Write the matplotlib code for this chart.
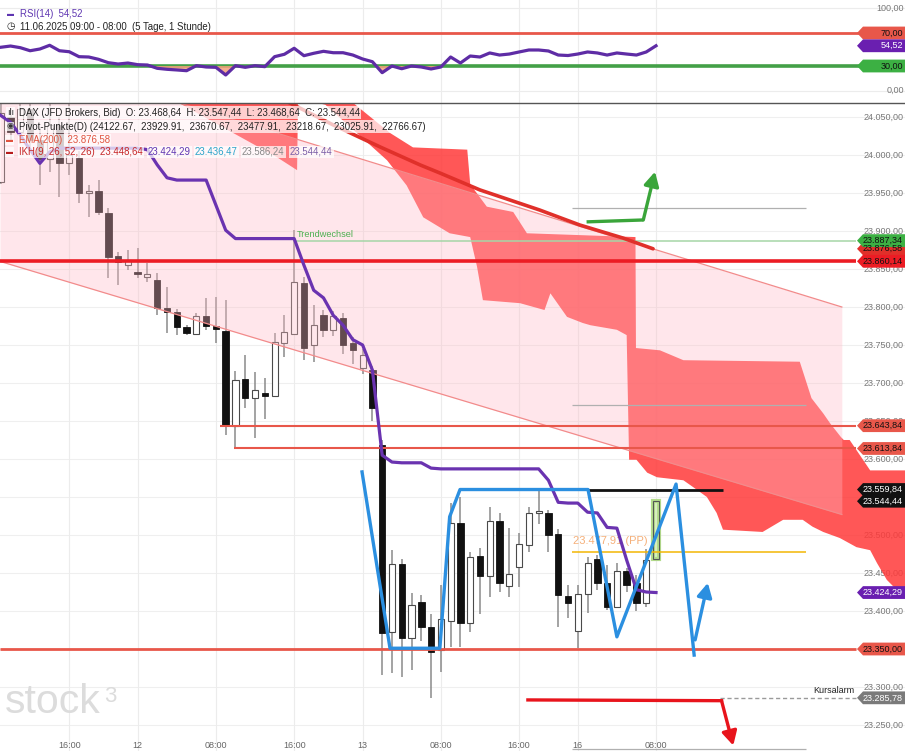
import numpy as np
import matplotlib
matplotlib.use("Agg")
import matplotlib.pyplot as plt
from matplotlib.patches import Polygon
from matplotlib.lines import Line2D
from matplotlib.transforms import blended_transform_factory as btf

plt.rcParams['font.family'] = ['Liberation Sans', 'DejaVu Sans']

W, H = 905, 751

# ---------------- data ----------------
opens = [23964, 24050, 24030, 24060, 24020, 23995, 24040, 23990, 23996, 23950,
         23953, 23924, 23867, 23855, 23846, 23839, 23836, 23799, 23793, 23774,
         23764, 23788, 23775, 23768, 23643, 23705, 23680, 23687, 23683, 23753,
         23765, 23832, 23750, 23789, 23770, 23786, 23752, 23720, 23717, 23618,
         23372, 23462, 23365, 23412, 23379, 23349, 23387, 23516, 23384, 23472,
         23446, 23518, 23433, 23458, 23487, 23529, 23529, 23501, 23420, 23374,
         23422, 23468, 23437, 23405, 23453, 23437, 23411, 23468.64]
highs = [24075, 24062, 24080, 24075, 24035, 24072, 24050, 24070, 24005, 23960,
         23967, 23930, 23872, 23875, 23878, 23858, 23845, 23826, 23797, 23776,
         23792, 23812, 23813, 23809, 23716, 23737, 23714, 23707, 23766, 23789,
         23901, 23840, 23803, 23796, 23795, 23792, 23760, 23745, 23722, 23625,
         23480, 23468, 23424, 23421, 23396, 23434, 23542, 23550, 23478, 23483,
         23537, 23529, 23509, 23503, 23537, 23559.84, 23533, 23508, 23434, 23434,
         23471, 23474, 23461, 23463, 23457, 23447, 23482, 23547.44]
lows = [23962, 24020, 24015, 24010, 23961, 23978, 23945, 23974, 23937, 23918,
        23921, 23838, 23829, 23849, 23838, 23833, 23789, 23766, 23763, 23763,
        23763, 23770, 23753, 23632, 23613.84, 23667, 23628, 23653, 23683, 23734,
        23765, 23730, 23728, 23760, 23762, 23738, 23725, 23712, 23650, 23316,
        23318, 23313, 23322, 23360, 23285.78, 23320, 23353, 23353, 23372, 23396,
        23418, 23425, 23418, 23432, 23478, 23515, 23478, 23379, 23391, 23351,
        23397, 23428, 23401, 23404, 23425, 23400, 23405, 23468.64]
closes = [24055, 24030, 24060, 24020, 23995, 24040, 23990, 24000, 23950, 23953,
          23925, 23866, 23859, 23862, 23844, 23843, 23799, 23793, 23774, 23766,
          23788, 23775, 23771, 23643.84, 23704, 23680, 23691, 23683, 23754, 23767,
          23833, 23746, 23776, 23770, 23788, 23750, 23744, 23737, 23667, 23371,
          23462, 23365, 23408, 23379, 23346, 23390, 23516, 23384, 23471, 23446,
          23518, 23437, 23449, 23488, 23529, 23531, 23500, 23421, 23411, 23422,
          23463, 23437, 23405, 23453, 23434, 23411, 23467, 23544.44]

# Ichimoku Kijun-sen (purple)
kijun = [24052, 24043, 24026, 24007, 23989, 24004, 24009, 24009, 24009, 24009,
         24009, 24009, 24009, 24009, 24009, 24007, 23987, 23970, 23967, 23967,
         23967, 23967, 23934, 23901, 23890, 23890, 23890, 23890, 23890, 23890,
         23890, 23855, 23822, 23812, 23789, 23776, 23757, 23750, 23717, 23605,
         23596, 23595, 23595, 23595, 23588, 23587, 23587, 23587, 23587, 23587,
         23587, 23587, 23587, 23587, 23587, 23587, 23572, 23543, 23542, 23542,
         23530, 23529, 23510, 23509, 23467, 23428, 23425, 23424.29]

rsi = [52.7, 54.2, 52.2, 48.5, 50.6, 55.1, 48.5, 47.3, 41.3, 40.9,
       38.1, 34.0, 32.4, 33.6, 31.6, 31.2, 27.2, 26.0, 25.2, 24.3,
       30.4, 28.8, 28.4, 19.1, 30.4, 28.4, 30.4, 29.2, 41.3, 44.2,
       51.5, 42.5, 45.4, 47.8, 46.1, 46.1, 43.3, 38.5, 35.2, 21.9,
       30.0, 26.7, 30.0, 28.8, 26.4, 28.8, 40.9, 33.6, 42.1, 40.9,
       45.8, 43.3, 44.5, 47.0, 49.4, 49.4, 48.2, 43.3, 42.7, 44.5,
       47.0, 45.8, 43.3, 45.8, 44.5, 43.3, 47.0, 54.52]

# EMA(200)
ema_x = [27.0, 34.0, 36.4, 38.8, 42.9, 44.9, 49.0, 55.1, 59.2, 63.6, 66.7]
ema_y = [24085, 24039.5, 24025, 24010.5, 23986.8, 23976.3, 23954, 23927.6,
         23907.9, 23890.8, 23876.58]

# Ichimoku cloud outline
cloud_top_x = [18.0, 35.7, 39.8, 42.15, 47.7, 48.0, 48.2, 49.7, 52.4, 53.8, 64.9,
               64.95, 67.4, 69.8, 81.7, 82.9, 84.1, 84.8, 85.9, 86.2, 86.8, 88.9, 92.5]
cloud_top_y = [24095, 24072, 24029, 24010, 24007, 23962, 23958, 23932, 23925, 23897,
               23892, 23746, 23743, 23730, 23728, 23680, 23660, 23647, 23629, 23625,
               23625, 23585, 23585]
cloud_bot_x = [18.0, 28.25, 30.3, 30.4, 33.2, 36.4, 39.5, 41.5, 43.2, 45.9, 48.0, 48.7,
               49.3, 53.1, 55.6, 56.2, 57.9, 59.5, 60.3, 63.0, 64.0, 64.25, 65.0, 66.1,
               67.1, 69.8, 70.8, 72.2, 73.2, 73.85, 77.9, 80.0, 82.0, 83.0, 84.1, 85.8,
               87.5, 88.9, 89.6, 90.6, 91.6, 92.5]
cloud_bot_y = [24070, 23997, 23980, 24075, 24066, 24029, 23993, 23960, 23918, 23897,
               23892, 23853, 23809, 23805, 23796, 23818, 23787, 23779, 23776, 23770,
               23763, 23599, 23599, 23582, 23576, 23572, 23563, 23550, 23529, 23507,
               23504, 23520, 23520, 23511, 23504, 23496, 23484, 23480, 23463, 23441,
               23428, 23424]

# trend channel
channel_x = [-0.08, 86.0]
channel_upper = [24141.0, 23800.0]
channel_lower = [23860.0, 23527.0]

# blue zigzag + arrows
zigzag_x = [36.94, 39.8, 44.9, 45.9, 46.96, 60.05, 63.0, 69.05, 70.9]
zigzag_y = [23583, 23351, 23351, 23524, 23559.84, 23559.84, 23366, 23567, 23342]
blue_arrow = [(71.0, 23362), (72.3, 23437)]
green_path_x = [59.9, 65.7]
green_path_y = [23912, 23914.5]
green_arrow = [(65.7, 23914.5), (66.9, 23978)]
red_path_x = [53.9, 73.7]
red_path_y = [23283, 23282]
red_arrow = [(73.7, 23282), (74.9, 23223)]

pivots = [24122.67, 23929.91, 23670.67, 23477.91, 23218.67, 23025.91, 22766.67]
pivot_pp = 23477.91
support_350 = 23350.00
red_level = 23860.14
trend_change = 23887.34
ema_last = 23876.58
level_a = 23643.84
level_b = 23613.84
range_high = 23559.84
alarm = 23285.78
last_close = 23544.44
ikh_values = ["23.448,64", "23.424,29", "23.436,47", "23.586,24", "23.544,44"]

time_tick_pos = [7, 14, 22, 30, 37, 45, 53, 59, 67]
time_tick_labels = ["16:00", "12", "08:00", "16:00", "13", "08:00", "16:00", "16", "08:00"]
price_ticks = [24050, 24000, 23950, 23900, 23850, 23800, 23750, 23700, 23650,
               23600, 23550, 23500, 23450, 23400, 23350, 23300, 23250]
rsi_grid = [100, 0]
rsi_upper, rsi_lower = 70, 30
rsi_last = 54.52


def de(v, nd=2):
    s = f"{v:,.{nd}f}"
    return s.replace(",", "X").replace(".", ",").replace("X", ".")


# ---------------- figure ----------------
fig = plt.figure(figsize=(W / 100, H / 100), dpi=100)
fig.patch.set_facecolor('white')
top_px = 103
ax = fig.add_axes([0, 0, 1, (H - top_px) / H])
axr = fig.add_axes([0, 1 - top_px / H, 1, top_px / H])

xl = (-0.078, 92.46)
ax.set_xlim(*xl)
ax.set_ylim(23215.8, 24068.4)
axr.set_xlim(*xl)
axr.set_ylim(-14.85, 110)
for a in (ax, axr):
    a.axis('off')

ppx = (ax.get_ylim()[1] - ax.get_ylim()[0]) / (H - top_px)   # price per pixel
rpx = (axr.get_ylim()[1] - axr.get_ylim()[0]) / top_px

# grids
for p in price_ticks:
    ax.axhline(p, color='#efefef', lw=0.8, zorder=0)
for t in time_tick_pos:
    ax.axvline(t, color='#ececec', lw=0.8, zorder=0)
    axr.axvline(t, color='#ececec', lw=0.8, zorder=0)
for g in rsi_grid:
    axr.axhline(g, color='#ececec', lw=0.8, zorder=0)

tr_main = btf(ax.transAxes, ax.transData)
tr_rsi = btf(axr.transAxes, axr.transData)

tag_levels = [ema_last, trend_change, red_level, level_a, level_b, range_high,
              last_close, kijun[-1], support_350, alarm]

# plain price labels (those fully hidden behind a tag are not drawn)
for p in price_ticks:
    if min(abs(p - t) for t in tag_levels) < 4.5 * ppx:
        continue
    ax.text(904 / W, p, de(p), transform=tr_main, ha='right', va='center',
            fontsize=6.5, color='#777777', zorder=0.8)
for g in rsi_grid:
    axr.text(904 / W, g, de(g), transform=tr_rsi, ha='right', va='center',
             fontsize=6.5, color='#777777', zorder=0.8)

# cloud
ax.fill(cloud_top_x + cloud_bot_x[::-1], cloud_top_y + cloud_bot_y[::-1],
        color='#ff3b3b', alpha=0.86, lw=0, zorder=1)

# candles
idx = np.arange(len(opens))
o = np.array(opens); h = np.array(highs); l = np.array(lows); c = np.array(closes)
bull = c >= o
bottom = np.minimum(o, c)
height = np.maximum(np.abs(c - o), 2.5)
last = len(o) - 1
m = np.arange(len(o)) < last
ax.vlines(idx, l, h, color='#8a8a8a', lw=1.1, zorder=2)
ax.bar(idx[bull & m], height[bull & m], bottom=bottom[bull & m], width=0.62,
       color='white', edgecolor='#4a4a4a', lw=0.8, zorder=2.2)
ax.bar(idx[~bull & m], height[~bull & m], bottom=bottom[~bull & m], width=0.66,
       color='#111111', edgecolor='#111111', lw=0.6, zorder=2.2)
ax.bar([idx[last]], [height[last]], bottom=[bottom[last]], width=0.66,
       color='#dcefc4', edgecolor='#b4dc8c', lw=3.0, zorder=2.3)
ax.bar([idx[last]], [height[last]], bottom=[bottom[last]], width=0.62,
       color='none', edgecolor='#555555', lw=0.8, zorder=2.4)

# trend channel
ax.fill_between(channel_x, channel_lower, channel_upper, color='#ffbac6',
                alpha=0.35, lw=0, zorder=3)
ax.plot(channel_x, channel_upper, color='#f28b8b', lw=0.9, zorder=3.1)
ax.plot(channel_x, channel_lower, color='#f28b8b', lw=0.9, zorder=3.1)

# horizontal levels
xe = 87.4
ax.hlines(red_level, xl[0], xe, color='#ec1c24', lw=2.6, zorder=4)
ax.hlines(support_350, xl[0], xe, color='#e8574a', lw=2.0, zorder=4)
ax.hlines(level_a, 22.4, xe, color='#e8574a', lw=1.5, zorder=4)
ax.hlines(level_b, 23.9, xe, color='#e8574a', lw=1.5, zorder=4)
ax.hlines(trend_change, 30.1, xe, color='#a5d6a7', lw=1.1, zorder=4)
ax.text(30.3, trend_change + 7.5, "Trendwechsel", color='#4caf50', fontsize=6.6,
        va='center', ha='left', zorder=4)
ax.hlines(range_high, 60.0, 73.8, color='#111111', lw=2.0, zorder=4)
for p in (pivots[1], pivots[2], pivots[4]):
    ax.hlines(p, 58.4, 82.3, color='#b0b0b0', lw=0.9, zorder=4)
ax.hlines(pivot_pp, 58.4, 82.3, color='#f2b705', lw=1.1, zorder=4)
ax.text(58.5, pivot_pp + 14, de(pivot_pp) + " (PP)", color='#f5b07a', fontsize=8,
        va='center', ha='left', zorder=1.5)
ax.hlines(alarm, 73.5, xe, color='#9a9a9a', lw=1.0, linestyles=(0, (3, 2)), zorder=4)
ax.text(87.3, alarm + 9, "Kursalarm", color='#222222', fontsize=6.5, ha='right',
        va='center', zorder=4)

# EMA and Kijun
ax.plot(ema_x, ema_y, color='#e0302a', lw=2.6, zorder=4.5, solid_capstyle='round')
ax.plot(idx, kijun, color='#6a33b0', lw=2.3, zorder=5, solid_joinstyle='round')

# zigzag and arrows
ax.plot(zigzag_x, zigzag_y, color='#2b8fe0', lw=2.4, zorder=6, solid_joinstyle='round')


def arrow(a, p0, p1, col):
    a.annotate('', xy=p1, xytext=p0, zorder=6,
               arrowprops=dict(arrowstyle='-|>,head_length=0.6,head_width=0.32',
                               color=col, lw=2.4, shrinkA=0, shrinkB=0,
                               mutation_scale=14))


arrow(ax, blue_arrow[0], blue_arrow[1], '#2b8fe0')
ax.plot(green_path_x, green_path_y, color='#3aa53a', lw=2.4, zorder=6, solid_capstyle='butt')
arrow(ax, green_arrow[0], green_arrow[1], '#3aa53a')
ax.plot(red_path_x, red_path_y, color='#e8141c', lw=2.4, zorder=6)
arrow(ax, red_arrow[0], red_arrow[1], '#e8141c')

# RSI panel
axr.axhline(rsi_upper, color='#e8574a', lw=2.0, zorder=2)
axr.axhline(rsi_lower, color='#43a047', lw=2.6, zorder=2)
r = np.array(rsi)
axr.fill_between(idx, r, rsi_lower, where=r < rsi_lower, interpolate=True,
                 color='#f3a07a', alpha=0.85, lw=0, zorder=2.5)
axr.plot(idx, r, color='#5e2ca5', lw=2.3, zorder=3, solid_joinstyle='round')


# right-hand tags
def tag(a, tr, val, txt, bg, fg, hh):
    tip, x0 = 857 / W, 863 / W
    poly = Polygon([(tip, val), (x0, val + hh), (1.0, val + hh), (1.0, val - hh),
                    (x0, val - hh)], closed=True, transform=tr, facecolor=bg,
                   edgecolor='none', zorder=7, clip_on=False)
    a.add_patch(poly)
    a.text(903 / W, val, txt, transform=tr, ha='right', va='center', fontsize=6.5,
           color=fg, zorder=7.1)


hh = 6.4 * ppx
tag(ax, tr_main, ema_last, de(ema_last), '#e0302a', '#111111', hh)
tag(ax, tr_main, trend_change, de(trend_change), '#3cb043', '#111111', hh)
tag(ax, tr_main, red_level, de(red_level), '#ec1c24', '#111111', hh)
tag(ax, tr_main, level_a, de(level_a), '#e8574a', '#111111', hh)
tag(ax, tr_main, level_b, de(level_b), '#e8574a', '#111111', hh)
tag(ax, tr_main, range_high, de(range_high), '#111111', '#ffffff', hh)
tag(ax, tr_main, last_close, de(last_close), '#111111', '#ffffff', hh)
tag(ax, tr_main, kijun[-1], de(kijun[-1]), '#6a1fb0', '#ffffff', hh)
tag(ax, tr_main, support_350, de(support_350), '#e8574a', '#111111', hh)
tag(ax, tr_main, alarm, de(alarm), '#7a7a7a', '#ffffff', hh)
rh = 6.4 * rpx
tag(axr, tr_rsi, rsi_upper, de(rsi_upper), '#e8574a', '#111111', rh)
tag(axr, tr_rsi, rsi_last, de(rsi_last), '#6a1fb0', '#ffffff', rh)
tag(axr, tr_rsi, rsi_lower, de(rsi_lower), '#3cb043', '#111111', rh)

# time labels
tr_time = btf(ax.transData, fig.transFigure)
for t, lab in zip(time_tick_pos, time_tick_labels):
    ax.text(t, 1 - 745 / H, lab, transform=tr_time, ha='center', va='center',
            fontsize=6.5, color='#666666', zorder=7)

# separator line
fig.add_artist(Line2D([0, 1], [1 - top_px / H] * 2, color='#555555', lw=1.0))


# legend texts
def ft(px, py, s, col, size=6.9, box=True, **kw):
    bb = dict(facecolor='white', alpha=0.72, edgecolor='none', pad=0.8) if box else None
    fig.text(px / W, 1 - py / H, s, color=col, fontsize=size, va='center', ha='left',
             bbox=bb, zorder=9, **kw)


ft(7, 112.5, "ılı", '#333333', 6.5)
ft(19, 112.5, f"DAX (JFD Brokers, Bid)  O: {de(opens[-1])}  H: {de(highs[-1])}  "
              f"L: {de(lows[-1])}  C: {de(closes[-1])}", '#222222')
ft(6, 126.5, "◉", '#333333', 6.0)
ft(19, 126.5, "Pivot-Punkte(D) (" + ",  ".join(f"{p:.2f}" for p in pivots) + ")",
   '#222222')
ft(6, 140, "▬", '#e0533f', 5.0)
ft(19, 140, "EMA(200)  " + de(ema_last), '#e0533f')
ft(6, 152, "▬", '#b71c1c', 5.0)
ft(19, 152, "IKH(9, 26, 52, 26)  " + ikh_values[0], '#c62828')
ft(148, 152, ikh_values[1], '#5e35b1')
ft(195, 152, ikh_values[2], '#2aa3c9')
ft(242, 152, ikh_values[3], '#888888')
ft(290, 152, ikh_values[4], '#7b5ea7')

ft(7, 14, "▬", '#5e35b1', 5.0, box=False)
ft(20, 14, "RSI(14)  " + de(rsi_last), '#5e35b1', box=False)
ft(6, 26.5, "◷", '#222222', 7.0, box=False)
ft(20, 26.5, "11.06.2025 09:00 - 08:00  (5 Tage, 1 Stunde)", '#222222', box=False)

# watermark
fig.text(5 / W, 1 - 713 / H, "stock", fontsize=29.5, color='#dcdcdc', va='baseline',
         ha='left', zorder=0.5)
fig.text(104 / W, 1 - 702 / H, "3", fontsize=16, color='#dcdcdc', va='baseline',
         ha='left', zorder=0.5)

fig.savefig("out.png", dpi=100, facecolor='white')
